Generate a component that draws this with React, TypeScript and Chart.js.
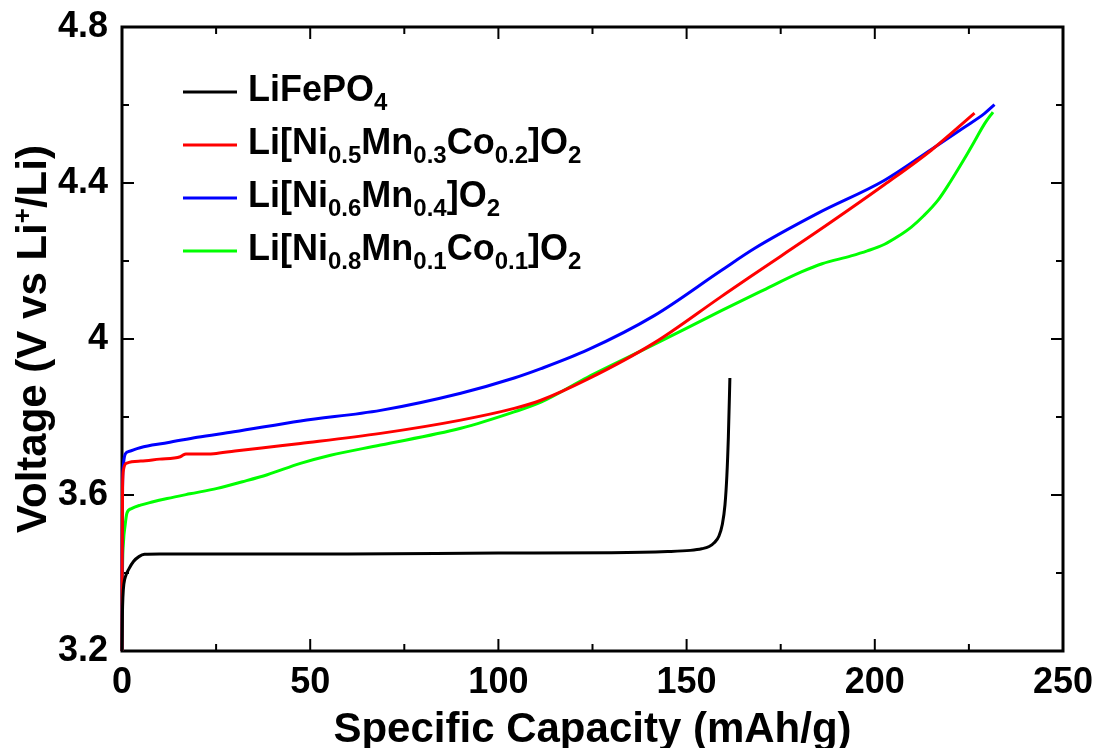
import React, { useEffect, useRef } from "react";
import { Chart, registerables } from "chart.js";

Chart.register(...registerables);

// Charge curves: specific capacity (mAh/g) vs. voltage (V vs Li+/Li)
const lfpCapacity = [0, 0.1, 0.25, 0.5, 1.0, 1.8, 3.1, 4.5, 6, 10, 30, 60, 100, 130, 145, 151, 154, 156, 157.4, 158.6, 159.5, 160.2, 160.7, 161.1, 161.5];
const lfpVoltage = [3.2, 3.29, 3.34, 3.372, 3.393, 3.41, 3.43, 3.442, 3.448, 3.449, 3.449, 3.449, 3.451, 3.452, 3.455, 3.458, 3.462, 3.468, 3.478, 3.495, 3.525, 3.575, 3.65, 3.75, 3.9];

const nmc532Capacity = [0, 0.05, 0.15, 0.4, 1.3, 5, 10, 15.5, 16.3, 17, 20, 24.4, 30, 42.1, 47.4, 68.7, 90, 104.2, 111.3, 123.7, 141.4, 159.1, 167.1, 184.8, 202.6, 215, 226.5];
const nmc532Voltage = [3.2, 3.45, 3.62, 3.665, 3.682, 3.687, 3.692, 3.698, 3.703, 3.705, 3.705, 3.706, 3.713, 3.726, 3.732, 3.758, 3.792, 3.822, 3.843, 3.897, 3.99, 4.108, 4.161, 4.276, 4.396, 4.484, 4.579];

const nm64Capacity = [0, 0.05, 0.15, 0.4, 0.9, 2, 4, 8, 12, 20, 29.7, 47.4, 68.7, 90, 104.2, 111.3, 123.7, 141.4, 159.1, 168, 184.8, 202.6, 215, 223.8, 229.1, 231.8];
const nm64Voltage = [3.2, 3.45, 3.62, 3.68, 3.706, 3.712, 3.719, 3.728, 3.734, 3.748, 3.762, 3.79, 3.817, 3.861, 3.9, 3.924, 3.972, 4.06, 4.175, 4.232, 4.322, 4.407, 4.486, 4.543, 4.578, 4.601];

const nmc811Capacity = [0, 0.1, 0.4, 0.8, 1.3, 2.5, 4.9, 8, 12, 18, 25.3, 32, 38.6, 47.4, 55.4, 68.7, 90, 104.2, 111.3, 123.7, 141.4, 159.1, 169.7, 180.5, 186, 193.7, 198, 202.6, 206, 209.7, 213, 216.8, 220, 223.8, 226.5, 229.1, 231.4];
const nmc811Voltage = [3.2, 3.38, 3.48, 3.52, 3.553, 3.565, 3.574, 3.582, 3.591, 3.603, 3.617, 3.634, 3.652, 3.681, 3.702, 3.728, 3.771, 3.813, 3.838, 3.902, 3.986, 4.072, 4.122, 4.172, 4.193, 4.213, 4.226, 4.243, 4.262, 4.287, 4.316, 4.356, 4.402, 4.462, 4.507, 4.551, 4.582];

const seriesLabels = [
  "LiFePO_{4}",
  "Li[Ni_{0.5}Mn_{0.3}Co_{0.2}]O_{2}",
  "Li[Ni_{0.6}Mn_{0.4}]O_{2}",
  "Li[Ni_{0.8}Mn_{0.1}Co_{0.1}]O_{2}",
];
const seriesColors = ["#000000", "#ff0000", "#0000ff", "#00ff00"];

const xMajorTicks = [0, 50, 100, 150, 200, 250];
const xMinorTicks = [25, 75, 125, 175, 225];
const yMajorTicks = [3.2, 3.6, 4.0, 4.4, 4.8];
const yMinorTicks = [3.4, 3.8, 4.2, 4.6];

const xTitle = "Specific Capacity (mAh/g)";
const yTitleParts = ["Voltage (V vs Li", "+", "/Li)"];

const FONT = "'Liberation Sans', Arial, sans-serif";

function toPoints(xs: number[], ys: number[]) {
  return xs.map((x, i) => ({ x, y: ys[i] }));
}

// split "A_{b}C" into normal / subscript runs
function parseRuns(label: string) {
  const parts = label.split(/_\{([^}]*)\}/);
  return parts.map((text, i) => ({ text, sub: i % 2 === 1 })).filter((r) => r.text.length > 0);
}

function noScalePadding(s: any) {
  s.paddingLeft = 0;
  s.paddingRight = 0;
  s.paddingTop = 0;
  s.paddingBottom = 0;
}

const framePlugin = {
  id: "frameTicks",
  beforeDatasetsDraw(chart: any) {
    const { ctx, chartArea: a, scales } = chart;
    const xs = scales.x;
    const ys = scales.y;
    ctx.save();
    ctx.strokeStyle = "#000";
    ctx.lineCap = "butt";
    ctx.lineWidth = 2;
    const seg = (x1: number, y1: number, x2: number, y2: number) => {
      ctx.beginPath();
      ctx.moveTo(x1, y1);
      ctx.lineTo(x2, y2);
      ctx.stroke();
    };
    const xTick = (v: number, len: number) => {
      const px = xs.getPixelForValue(v);
      seg(px, a.bottom, px, a.bottom - len);
      seg(px, a.top, px, a.top + len);
    };
    const yTick = (v: number, len: number) => {
      const py = ys.getPixelForValue(v);
      seg(a.left, py, a.left + len, py);
      seg(a.right, py, a.right - len, py);
    };
    xMajorTicks.forEach((v) => xTick(v, 12));
    xMinorTicks.forEach((v) => xTick(v, 7));
    yMajorTicks.forEach((v) => yTick(v, 12));
    yMinorTicks.forEach((v) => yTick(v, 7));
    ctx.lineWidth = 3;
    ctx.strokeRect(a.left, a.top, a.right - a.left, a.bottom - a.top);
    ctx.restore();
  },
  afterDraw(chart: any) {
    const { ctx, chartArea: a } = chart;
    ctx.save();
    ctx.fillStyle = "#000";
    ctx.textAlign = "left";
    ctx.textBaseline = "alphabetic";

    // legend
    const rowY = [92, 145, 198, 251];
    const mainSize = 36;
    const subSize = 24;
    seriesLabels.forEach((label, i) => {
      const y = rowY[i];
      ctx.strokeStyle = seriesColors[i];
      ctx.lineWidth = 3;
      ctx.beginPath();
      ctx.moveTo(183, y);
      ctx.lineTo(237, y);
      ctx.stroke();
      let x = 248;
      const base = y + 9;
      parseRuns(label).forEach((run) => {
        ctx.font = `bold ${run.sub ? subSize : mainSize}px ${FONT}`;
        ctx.fillText(run.text, x, run.sub ? base + 9 : base);
        x += ctx.measureText(run.text).width;
      });
    });

    // x-axis title
    ctx.font = `bold 42px ${FONT}`;
    ctx.textAlign = "center";
    ctx.fillText(xTitle, (a.left + a.right) / 2, 742);

    // y-axis title with superscript
    ctx.textAlign = "left";
    const bigFont = `bold 42px ${FONT}`;
    const supFont = `bold 26px ${FONT}`;
    const widths = yTitleParts.map((t, i) => {
      ctx.font = i === 1 ? supFont : bigFont;
      return ctx.measureText(t).width;
    });
    const total = widths.reduce((s, w) => s + w, 0);
    ctx.translate(46, (a.top + a.bottom) / 2);
    ctx.rotate(-Math.PI / 2);
    let x = -total / 2;
    yTitleParts.forEach((t, i) => {
      ctx.font = i === 1 ? supFont : bigFont;
      ctx.fillText(t, x, i === 1 ? -15 : 0);
      x += widths[i];
    });
    ctx.restore();
  },
};

export default function App() {
  const canvasRef = useRef<HTMLCanvasElement | null>(null);

  useEffect(() => {
    const canvas = canvasRef.current;
    if (!canvas) return;
    const series = [
      toPoints(lfpCapacity, lfpVoltage),
      toPoints(nmc532Capacity, nmc532Voltage),
      toPoints(nm64Capacity, nm64Voltage),
      toPoints(nmc811Capacity, nmc811Voltage),
    ];
    const chart = new Chart(canvas, {
      type: "line",
      data: {
        datasets: series.map((pts, i) => ({
          label: seriesLabels[i],
          data: pts,
          borderColor: seriesColors[i],
          backgroundColor: seriesColors[i],
          borderWidth: 3,
          pointRadius: 0,
          fill: false,
          cubicInterpolationMode: "monotone" as const,
          clip: false as any,
        })),
      },
      options: {
        animation: false,
        responsive: false,
        devicePixelRatio: 1,
        layout: { padding: { left: 0, right: 33, top: 27, bottom: 0 } },
        plugins: { legend: { display: false }, tooltip: { enabled: false } },
        scales: {
          x: {
            type: "linear",
            min: 0,
            max: 250,
            grid: { display: false, drawTicks: false },
            border: { display: false },
            afterBuildTicks: (s: any) => {
              s.ticks = xMajorTicks.map((v) => ({ value: v }));
            },
            afterFit: (s: any) => {
              s.height = 97;
              noScalePadding(s);
            },
            ticks: {
              padding: 10,
              color: "#000",
              font: { family: FONT, size: 36, weight: "bold" },
              maxRotation: 0,
              callback: (v: any) => String(v),
            },
          },
          y: {
            type: "linear",
            min: 3.2,
            max: 4.8,
            grid: { display: false, drawTicks: false },
            border: { display: false },
            afterBuildTicks: (s: any) => {
              s.ticks = yMajorTicks.map((v) => ({ value: v }));
            },
            afterFit: (s: any) => {
              s.width = 122;
              noScalePadding(s);
            },
            ticks: {
              padding: 14,
              color: "#000",
              font: { family: FONT, size: 36, weight: "bold" },
              callback: (v: any) => String(Number(Number(v).toFixed(1))),
            },
          },
        },
      },
      plugins: [framePlugin],
    });
    return () => chart.destroy();
  }, []);

  return (
    <div style={{ position: "absolute", left: 0, top: 0, width: 1096, height: 748 }}>
      <canvas ref={canvasRef} width={1096} height={748} style={{ display: "block" }} />
    </div>
  );
}
